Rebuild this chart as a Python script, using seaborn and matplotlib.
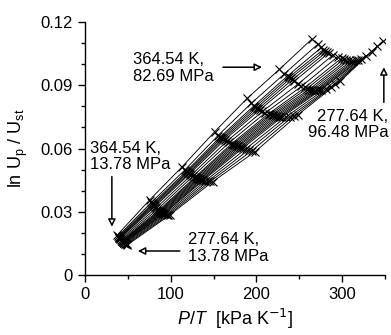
import numpy as np
import pandas as pd
import seaborn as sns
import matplotlib
matplotlib.use('Agg')
import matplotlib.pyplot as plt

# pressures [MPa] and temperatures [K]
pressures = [13.78, 27.58, 41.37, 55.16, 68.95, 82.69, 96.48]
temps = [364.54, 355.4, 349.8, 347.0, 344.3, 341.5, 338.7, 333.2, 327.6, 322.0, 319.3,
         316.5, 313.7, 310.9, 308.2, 305.4, 302.6, 299.8, 294.3, 288.7, 283.2, 277.64]

# ln Up/Ust, one row per pressure, columns follow temps
y_1378 = [0.0190, 0.0185, 0.0182, 0.0180, 0.0178, 0.0176, 0.0174, 0.0170, 0.0166, 0.0163, 0.0161,
          0.0160, 0.0158, 0.0157, 0.0155, 0.0154, 0.0152, 0.0151, 0.0149, 0.0147, 0.0145, 0.0143]
y_2758 = [0.0357, 0.0345, 0.0340, 0.0336, 0.0332, 0.0328, 0.0324, 0.0317, 0.0310, 0.0305, 0.0302,
          0.0300, 0.0298, 0.0296, 0.0294, 0.0292, 0.0290, 0.0289, 0.0288, 0.0287, 0.0286, 0.0286]
y_4137 = [0.0514, 0.0498, 0.0492, 0.0489, 0.0486, 0.0483, 0.0480, 0.0475, 0.0470, 0.0465, 0.0463,
          0.0460, 0.0458, 0.0456, 0.0454, 0.0452, 0.0450, 0.0449, 0.0447, 0.0445, 0.0444, 0.0443]
y_5516 = [0.0680, 0.0662, 0.0655, 0.0652, 0.0648, 0.0645, 0.0641, 0.0635, 0.0629, 0.0624, 0.0621,
          0.0618, 0.0615, 0.0612, 0.0610, 0.0607, 0.0605, 0.0602, 0.0598, 0.0594, 0.0590, 0.0586]
y_6895 = [0.0838, 0.0815, 0.0803, 0.0798, 0.0793, 0.0788, 0.0783, 0.0776, 0.0770, 0.0765, 0.0762,
          0.0760, 0.0758, 0.0756, 0.0754, 0.0752, 0.0751, 0.0750, 0.0750, 0.0752, 0.0755, 0.0760]
y_8269 = [0.0976, 0.0955, 0.0945, 0.0940, 0.0935, 0.0928, 0.0920, 0.0905, 0.0895, 0.0890, 0.0885,
          0.0880, 0.0878, 0.0876, 0.0875, 0.0876, 0.0878, 0.0880, 0.0885, 0.0892, 0.0905, 0.0920]
y_9648 = [0.1120, 0.1095, 0.1080, 0.1070, 0.1065, 0.1060, 0.1055, 0.1045, 0.1035, 0.1030, 0.1025,
          0.1020, 0.1018, 0.1016, 0.1016, 0.1018, 0.1020, 0.1025, 0.1040, 0.1060, 0.1085, 0.1110]

y_rows = [y_1378, y_2758, y_4137, y_5516, y_6895, y_8269, y_9648]

rows = []
for p, ys in zip(pressures, y_rows):
    for t, y in zip(temps, ys):
        rows.append({'P': p, 'T': t, 'PT': p * 1000 / t, 'lnU': y})
df = pd.DataFrame(rows)

sns.set_style('ticks')
plt.rcParams['font.family'] = ['Liberation Sans', 'DejaVu Sans']
plt.rcParams['mathtext.fontset'] = 'custom'
plt.rcParams['mathtext.rm'] = 'Liberation Sans'
plt.rcParams['mathtext.it'] = 'Liberation Sans:italic'

fig = plt.figure(figsize=(3.91, 3.35), dpi=100)
ax = fig.add_axes([0.217, 0.179, 0.768, 0.755])

sns.lineplot(data=df, x='PT', y='lnU', units='T', estimator=None, sort=False,
             color='black', lw=0.65, marker='x', markersize=6, mew=0.8,
             mec='black', ax=ax, legend=False)

ax.set_xlim(0, 350)
ax.set_ylim(0, 0.12)
ax.set_xticks([0, 100, 200, 300])
ax.set_xticks([50, 150, 250, 350], minor=True)
ax.set_yticks([0, 0.03, 0.06, 0.09, 0.12])
ax.set_yticklabels(['0', '0.03', '0.06', '0.09', '0.12'])
ax.set_yticks(np.arange(0.01, 0.12, 0.01), minor=True)
ax.tick_params(which='major', length=5, width=1, labelsize=12, direction='out', colors='black')
ax.tick_params(which='minor', length=3, width=1, direction='out', colors='black')
sns.despine(ax=ax)
for s in ['left', 'bottom']:
    ax.spines[s].set_linewidth(1)
    ax.spines[s].set_color('black')

ax.set_xlabel(r'$P/T$  [kPa K$^{\mathsf{-1}}$]', fontsize=13, labelpad=4, color='black')
ax.set_ylabel(r'ln U$_\mathrm{p}$ / U$_\mathrm{st}$', fontsize=13, labelpad=8, color='black')

txt = dict(fontsize=12, va='center', linespacing=1.1, color='black', clip_on=False)
ax.text(56, 0.0982, '364.54 K,\n82.69 MPa', ha='left', **txt)
ax.text(354, 0.0714, '277.64 K,\n96.48 MPa', ha='right', **txt)
ax.text(5.5, 0.0562, '364.54 K,\n13.78 MPa', ha='left', **txt)
ax.text(120, 0.0128, '277.64 K,\n13.78 MPa', ha='left', **txt)

arrow = dict(arrowstyle='-|>', fc='white', ec='black', lw=1.1, mutation_scale=11,
             shrinkA=0, shrinkB=0)
ax.annotate('', xy=(206.5, 0.0986), xytext=(161, 0.0986), arrowprops=arrow, annotation_clip=False)
ax.annotate('', xy=(348.5, 0.0986), xytext=(348.5, 0.0819), arrowprops=arrow, annotation_clip=False)
ax.annotate('', xy=(31.5, 0.0229), xytext=(31.5, 0.0467), arrowprops=arrow)
ax.annotate('', xy=(61.8, 0.0114), xytext=(110.7, 0.0114), arrowprops=arrow)

fig.savefig('out.png', dpi=100)
